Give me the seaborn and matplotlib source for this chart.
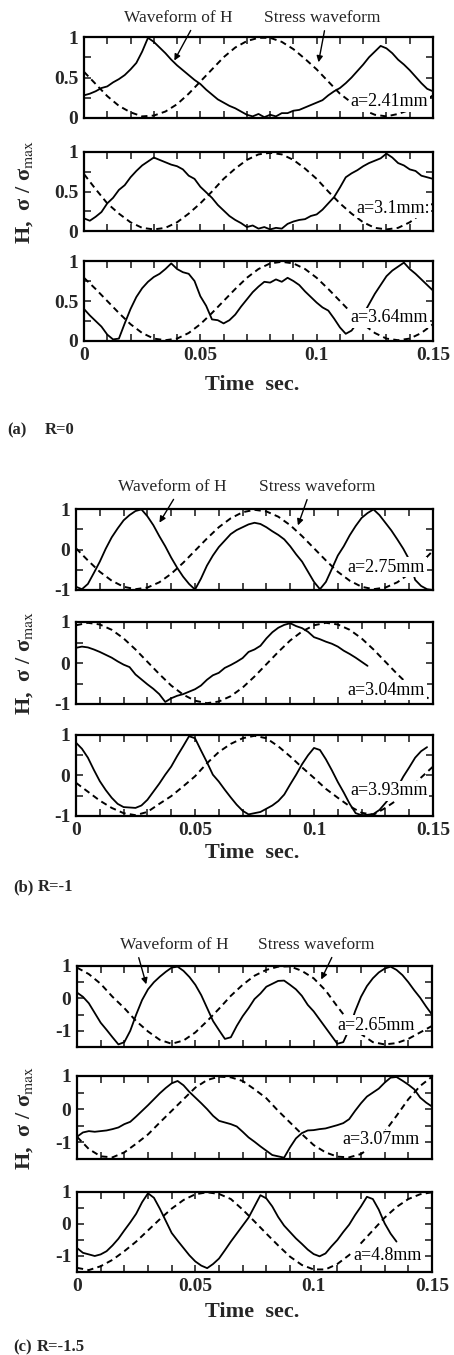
import numpy as np
import pandas as pd
import matplotlib
matplotlib.use("Agg")
import matplotlib.pyplot as plt
import seaborn as sns
from matplotlib.ticker import MultipleLocator, FixedLocator, FixedFormatter

# ---------------- data ----------------
STEP_H = 0.0025   # sampling of the H (solid) traces, s
STEP_S = 0.005    # sampling of the stress (dashed) traces, s

# (a) R = 0
a1_H = [.28, .30, .33, .37, .39, .44, .48, .53, .60, .68, .82, .99, .94, .87, .80, .72, .65, .59, .53, .47,
        .42, .35, .29, .23, .19, .15, .12, .08, .04, .02, .05, .01, .04, .02, .06, .06, .09, .10, .13, .16,
        .19, .22, .28, .33, .37, .43, .50, .58, .66, .75, .82, .89, .86, .80, .72, .66, .59, .51, .43, .36, .33]
a1_S = [.57, .42, .27, .15, .07, .02, .03, .08, .17, .30, .45, .60, .75, .87, .95, .99, .99, .94, .85, .73,
        .60, .45, .30, .19, .10, .04, .02, .05, .10, .18, .28]
a2_H = [.16, .13, .18, .24, .35, .42, .52, .58, .68, .76, .83, .88, .93, .90, .87, .84, .82, .78, .70, .66,
        .56, .49, .42, .33, .26, .19, .14, .10, .05, .07, .03, .05, .02, .04, .03, .09, .12, .14, .15, .19,
        .21, .27, .35, .43, .55, .68, .73, .77, .82, .86, .89, .92, .98, .93, .86, .83, .78, .76, .70, .68, .66]
a2_S = [.72, .53, .35, .22, .11, .04, .02, .04, .11, .22, .35, .50, .66, .79, .90, .97, .99, .97, .90, .79,
        .66, .50, .35, .22, .11, .04, .02, .04, .11, .22, .35]
a3_H = [.40, .32, .25, .18, .08, .02, .03, .22, .40, .55, .66, .74, .80, .84, .90, .97, .90, .86, .84, .75,
        .56, .44, .27, .26, .22, .26, .33, .43, .52, .61, .68, .74, .73, .77, .74, .79, .75, .70, .62, .55,
        .48, .42, .38, .28, .17, .09, .13, .23, .33, .46, .59, .70, .81, .88, .93, .98, .90, .84, .77, .70, .63]
a3_S = [.79, .65, .50, .35, .21, .10, .03, .01, .03, .10, .21, .35, .50, .65, .79, .90, .97, .99, .97, .90,
        .79, .65, .50, .35, .21, .10, .03, .01, .03, .10, .21]

# (b) R = -1
b1_H = [-.92, -.98, -.85, -.58, -.30, .02, .30, .52, .72, .85, .95, .99, .82, .60, .33, .08, -.20, -.45, -.67, -.85,
        -.99, -.72, -.40, -.15, .06, .22, .38, .48, .55, .62, .66, .63, .55, .45, .36, .25, .08, -.12, -.30, -.55,
        -.80, -.98, -.80, -.48, -.15, .08, .35, .58, .78, .90, .99, .85, .66, .47, .25, .02, -.25, -.75, -.90, -.98, -1.0]
b1_S = [.03, -.27, -.55, -.77, -.92, -.98, -.94, -.81, -.60, -.33, -.03, .27, .55, .77, .92, .98, .94, .81, .60, .33,
        .03, -.27, -.55, -.77, -.92, -.98, -.94, -.81, -.60, -.33, -.03]
b2_H = [.37, .40, .38, .33, .27, .20, .13, .04, -.04, -.10, -.28, -.40, -.52, -.63, -.76, -.95, -.86, -.80, -.76, -.70,
        -.64, -.55, -.41, -.30, -.24, -.12, -.05, .03, .12, .27, .33, .42, .60, .75, .86, .93, .97, .90, .85, .76,
        .63, .58, .52, .47, .40, .30, .22, .13, .03, -.07]
b2_S = [.92, .98, .94, .81, .60, .33, .03, -.27, -.55, -.77, -.92, -.98, -.94, -.81, -.60, -.33, -.03, .27, .55, .77,
        .92, .98, .94, .81, .60, .33, .03, -.27, -.55, -.77, -.92]
b3_H = [.81, .66, .44, .14, -.14, -.36, -.55, -.70, -.78, -.79, -.80, -.74, -.60, -.40, -.20, .02, .22, .48, .72, .97,
        .92, .62, .33, .02, -.15, -.35, -.54, -.72, -.87, -.96, -.93, -.90, -.82, -.74, -.63, -.47, -.22, .02, .28, .50,
        .68, .63, .40, .13, -.16, -.42, -.70, -.93, -.98, -.97, -.95, -.85, -.68, -.50, -.30, -.03, .20, .44, .60, .70]
b3_S = [-.18, -.40, -.62, -.80, -.93, -.98, -.90, -.70, -.51, -.27, -.02, .30, .58, .78, .92, .98, .92, .72, .47, .20,
        -.06, -.33, -.55, -.76, -.92, -.97, -.80, -.60, -.35, -.05, .22]

# (c) R = -1.5
c1_H = [.18, .05, -.15, -.45, -.75, -.97, -1.20, -1.42, -1.35, -1.00, -.50, -.05, .28, .50, .67, .82, .95, .98, .85, .66,
        .42, .10, -.30, -.70, -.98, -1.25, -1.20, -.85, -.55, -.30, -.02, .15, .36, .45, .54, .55, .42, .28, .08, -.20,
        -.40, -.65, -.90, -1.15, -1.40, -1.35, -.95, -.40, .05, .38, .62, .80, .92, .98, .88, .72, .50, .25, .02, -.25, -.50]
c1_S = [.95, .75, .45, .05, -.30, -.70, -1.02, -1.28, -1.40, -1.30, -1.05, -.70, -.32, .08, .42, .70, .88, .98, .99, .85,
        .62, .25, -.25, -.72, -1.10, -1.35, -1.42, -1.38, -1.25, -1.05, -.85]
c2_H = [-.83, -.70, -.66, -.68, -.66, -.64, -.60, -.55, -.45, -.38, -.22, -.05, .12, .30, .48, .64, .78, .85, .72, .52,
        .35, .18, .00, -.20, -.35, -.40, -.45, -.52, -.68, -.85, -.98, -1.12, -1.25, -1.38, -1.42, -1.46, -1.15, -.88, -.72, -.64,
        -.63, -.60, -.58, -.53, -.48, -.42, -.30, -.05, .18, .38, .50, .62, .80, .95, .97, .86, .74, .60, .35, .20, .08]
c2_S = [-.83, -1.20, -1.42, -1.45, -1.30, -1.04, -.76, -.40, -.05, .30, .65, .88, .98, .96, .85, .60, .33, -.05, -.40, -.75,
        -1.08, -1.30, -1.43, -1.45, -1.35, -1.10, -.68, -.20, .30, .70, .98]
c3_H = [-.75, -.90, -.95, -1.00, -.95, -.85, -.67, -.46, -.20, .05, .32, .68, .96, .82, .48, .10, -.28, -.52, -.75, -.98,
        -1.17, -1.30, -1.38, -1.25, -1.08, -.82, -.55, -.30, -.05, .20, .55, .90, .80, .55, .22, -.05, -.25, -.45, -.62, -.80,
        -.94, -1.01, -.92, -.70, -.50, -.25, -.02, .28, .55, .85, .78, .45, .02, -.30, -.55]
c3_S = [-1.37, -1.44, -1.32, -1.12, -.85, -.55, -.20, .15, .48, .75, .93, .99, .94, .78, .45, .08, -.30, -.67, -1.02, -1.28,
        -1.42, -1.42, -1.25, -.97, -.60, -.20, .20, .53, .78, .93, .99]

crack_labels = [["a=2.41mm", "a=3.1mm:", "a=3.64mm"],
                ["a=2.75mm", "a=3.04mm", "a=3.93mm"],
                ["a=2.65mm", "a=3.07mm", "a=4.8mm"]]
captions = [("(a)", "R=0"), ("(b)", "R=-1"), ("(c)", "R=-1.5")]
x_ticks = [0, 0.05, 0.1, 0.15]
x_ticklabels = ["0", "0.05", "0.1", "0.15"]
y_ticks = [[0, 0.5, 1], [-1, 0, 1], [-1, 0, 1]]
y_ticklabels = [["0", "0.5", "1"], ["-1", "0", "1"], ["-1", "0", "1"]]
y_lims = [(0, 1), (-1, 1), (-1.5, 1)]
y_minor = [0.25, 0.5, 0.5]

H_series = [[a1_H, a2_H, a3_H], [b1_H, b2_H, b3_H], [c1_H, c2_H, c3_H]]
S_series = [[a1_S, a2_S, a3_S], [b1_S, b2_S, b3_S], [c1_S, c2_S, c3_S]]

# ---------------- style ----------------
sns.set_theme(style="white")
plt.rcParams["font.family"] = ["Liberation Serif", "DejaVu Serif"]
plt.rcParams["mathtext.fontset"] = "stix"
plt.rcParams["axes.unicode_minus"] = False

W, H = 454, 1355
fig = plt.figure(figsize=(W / 100, H / 100), dpi=100)


def fx(px):
    return px / W


def fy(py):
    return 1 - py / H


# layout in reference pixels
layout = [
    dict(xl=84, xr=433, rows=[(37, 118), (152, 231), (261, 341)]),
    dict(xl=76, xr=433, rows=[(509, 590), (622, 704), (735, 816)]),
    dict(xl=77, xr=432, rows=[(966, 1047), (1076, 1159), (1192, 1272)]),
]
label_pos = [[(.986, .20), (.991, .29), (.986, .29)],
             [(.978, .28), (.978, .17), (.986, .31)],
             [(.952, .27), (.966, .23), (.972, .21)]]

for g in range(3):
    L = layout[g]
    for r in range(3):
        top, bot = L["rows"][r]
        ax = fig.add_axes([fx(L["xl"]), fy(bot), fx(L["xr"] - L["xl"]), (bot - top) / H])
        hv = H_series[g][r]
        sv = S_series[g][r]
        th = np.round(np.arange(len(hv)) * STEP_H, 5)
        ts = np.round(np.arange(len(sv)) * STEP_S, 5)
        sns.lineplot(x=ts, y=sv, ax=ax, color="black", lw=1.4,
                     linestyle=(0, (3.2, 2.2)), estimator=None, sort=False)
        sns.lineplot(x=th, y=hv, ax=ax, color="black", lw=1.3,
                     estimator=None, sort=False)
        ax.set_xlim(0, 0.15)
        ax.set_ylim(*y_lims[g])
        ax.xaxis.set_major_locator(FixedLocator(x_ticks))
        ax.xaxis.set_minor_locator(MultipleLocator(0.01))
        ax.yaxis.set_major_locator(FixedLocator(y_ticks[g]))
        ax.yaxis.set_major_formatter(FixedFormatter(y_ticklabels[g]))
        ax.yaxis.set_minor_locator(MultipleLocator(y_minor[g]))
        if r == 2:
            ax.xaxis.set_major_formatter(FixedFormatter(x_ticklabels))
        else:
            ax.set_xticklabels([])
        ax.tick_params(which="both", direction="in", top=True, right=True,
                       bottom=True, left=True, width=1.2, labelsize=14, pad=4)
        ax.tick_params(which="major", length=5)
        ax.tick_params(which="minor", length=5)
        for lab in ax.get_xticklabels() + ax.get_yticklabels():
            lab.set_fontweight("bold")
        for sp in ax.spines.values():
            sp.set_linewidth(1.6)
            sp.set_color("black")
        ax.set_xlabel("")
        ax.set_ylabel("")
        lx, ly = label_pos[g][r]
        ax.text(lx, ly, crack_labels[g][r], transform=ax.transAxes, ha="right", va="center",
                fontsize=13, color="black",
                bbox=dict(boxstyle="square,pad=0.08", fc="white", ec="none"))

    # x label
    xlab_y = [385, 853, 1312][g]
    fig.text(fx(252), fy(xlab_y), "Time  sec.", ha="center", va="center", fontsize=16, fontweight="bold")
    # y label
    mid = sum(L["rows"][1]) / 2
    fig.text(fx(25), fy(mid), r"H,  σ / σ$_{\mathrm{max}}$", rotation=90, ha="center", va="center",
             fontsize=16, fontweight="bold")
    # caption
    cap_y = [430, 887, 1347][g]
    fig.text(fx([7, 13, 13][g]), fy(cap_y), captions[g][0], ha="left", va="center", fontsize=12, fontweight="bold")
    fig.text(fx([45, 38, 37][g]), fy(cap_y), captions[g][1], ha="left", va="center", fontsize=12, fontweight="bold")

# headers and arrows
headers = [((178, 18), (322, 18)), ((172, 487), (317, 487)), ((174, 945), (316, 945))]
arrows = [(((192, 28), (173, 63)), ((325, 28), (318, 65))),
          (((175, 497), (158, 525)), ((308, 497), (297, 528))),
          (((138, 955), (147, 987)), ((333, 955), (320, 982)))]
for g in range(3):
    (hx, hy), (sx, sy) = headers[g]
    fig.text(fx(hx), fy(hy), "Waveform of H", ha="center", va="center", fontsize=12.5)
    fig.text(fx(sx), fy(sy), "Stress waveform", ha="center", va="center", fontsize=12.5)
    for (x0, y0), (x1, y1) in arrows[g]:
        fig.add_artist(matplotlib.patches.FancyArrowPatch(
            (fx(x0), fy(y0)), (fx(x1), fy(y1)), transform=fig.transFigure,
            arrowstyle="-|>", mutation_scale=9, lw=1.0, color="black"))

fig.savefig("out.png", dpi=100)
